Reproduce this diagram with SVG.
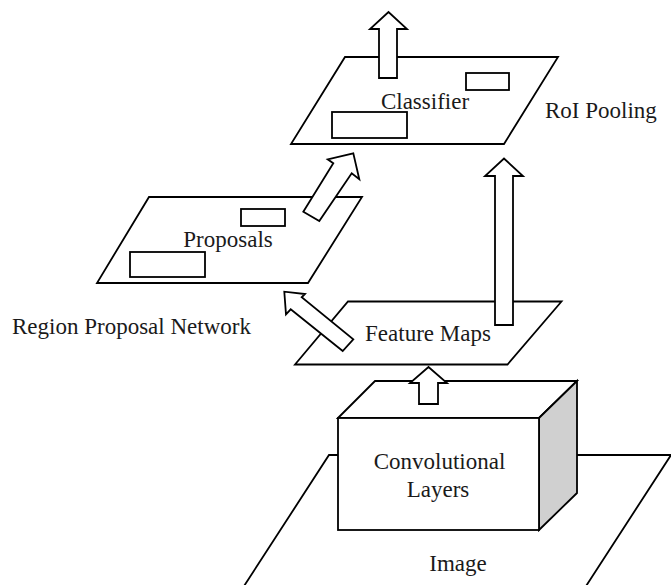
<svg xmlns="http://www.w3.org/2000/svg" width="671" height="585" viewBox="0 0 671 585">
  <style>
    .plane { fill: #ffffff; stroke: #000000; stroke-width: 1.8; stroke-linejoin: miter; }
    .box { fill: #ffffff; stroke: #000000; stroke-width: 1.8; }
    .side { fill: #d0d0d0; stroke: #000000; stroke-width: 1.8; }
    .arrow { fill: #ffffff; stroke: #000000; stroke-width: 1.8; stroke-linejoin: miter; }
    .label { font-family: "Liberation Serif", "Times New Roman", serif; font-size: 23px; fill: #1a1a1a; }
    .mid { text-anchor: middle; }
  </style>

  <rect width="671" height="585" fill="#ffffff"/>

  <!-- input image plane -->
  <g id="image">
    <polygon class="plane" points="329,455 671,455 577,600 235,600"/>
    <text class="label mid" x="458" y="571">Image</text>
  </g>

  <!-- convolutional block (cuboid) -->
  <g id="conv-layers">
    <polygon class="box" points="338,418 375,381 577,381 539,418"/>
    <polygon class="side" points="539,418 577,381 577,493 539,530"/>
    <rect class="box" x="338" y="418" width="201" height="112"/>
    <text class="label mid" x="439.5" y="469">Convolutional</text>
    <text class="label mid" x="438" y="497">Layers</text>
  </g>

  <!-- feature map plane -->
  <g id="feature-maps">
    <polygon class="plane" points="348,301.5 561.5,301.5 507.5,364.5 295,364.5"/>
    <text class="label mid" x="428" y="341">Feature Maps</text>
  </g>

  <!-- proposals plane -->
  <g id="proposals">
    <polygon class="plane" points="149,197 362,197 308,283 97,283"/>
    <rect class="box" x="241" y="209" width="44" height="17"/>
    <rect class="box" x="130" y="252" width="75" height="25"/>
    <text class="label mid" x="228" y="247">Proposals</text>
  </g>

  <!-- classifier plane -->
  <g id="classifier">
    <polygon class="plane" points="345,57 558,57 504,144 291,144"/>
    <rect class="box" x="466" y="73" width="43" height="17"/>
    <rect class="box" x="332" y="112" width="75" height="26"/>
    <text class="label mid" x="425" y="109">Classifier</text>
  </g>

  <g id="label-rpn">
    <text class="label" x="12" y="334">Region Proposal Network</text>
  </g>
  <g id="label-roi">
    <text class="label" x="545" y="118">RoI Pooling</text>
  </g>

  <!-- block arrows between stages -->
  <g id="connectors">
    <!-- conv layers -> feature maps -->
    <polygon class="arrow" points="419,404 419,383 410,383 428.5,367 447,383 438,383 438,404"/>
    <!-- feature maps -> proposals -->
    <polygon class="arrow" points="342.7,351 290.7,309.3 286,314.3 284.3,291.7 305,294 301.7,297.3 353.3,339.3"/>
    <!-- proposals -> classifier -->
    <polygon class="arrow" points="303.3,211.7 333.3,163.3 327.7,159.3 353.3,153.3 359.3,179.3 351.7,173.3 319.3,221"/>
    <!-- feature maps -> RoI pooling -->
    <polygon class="arrow" points="495,325 495,176 485,176 504,158.5 523,176 513,176 513,325"/>
    <!-- classifier output -->
    <polygon class="arrow" points="379,78 379,29 370,29 388.5,12 407,29 397,29 397,78"/>
  </g>
</svg>
